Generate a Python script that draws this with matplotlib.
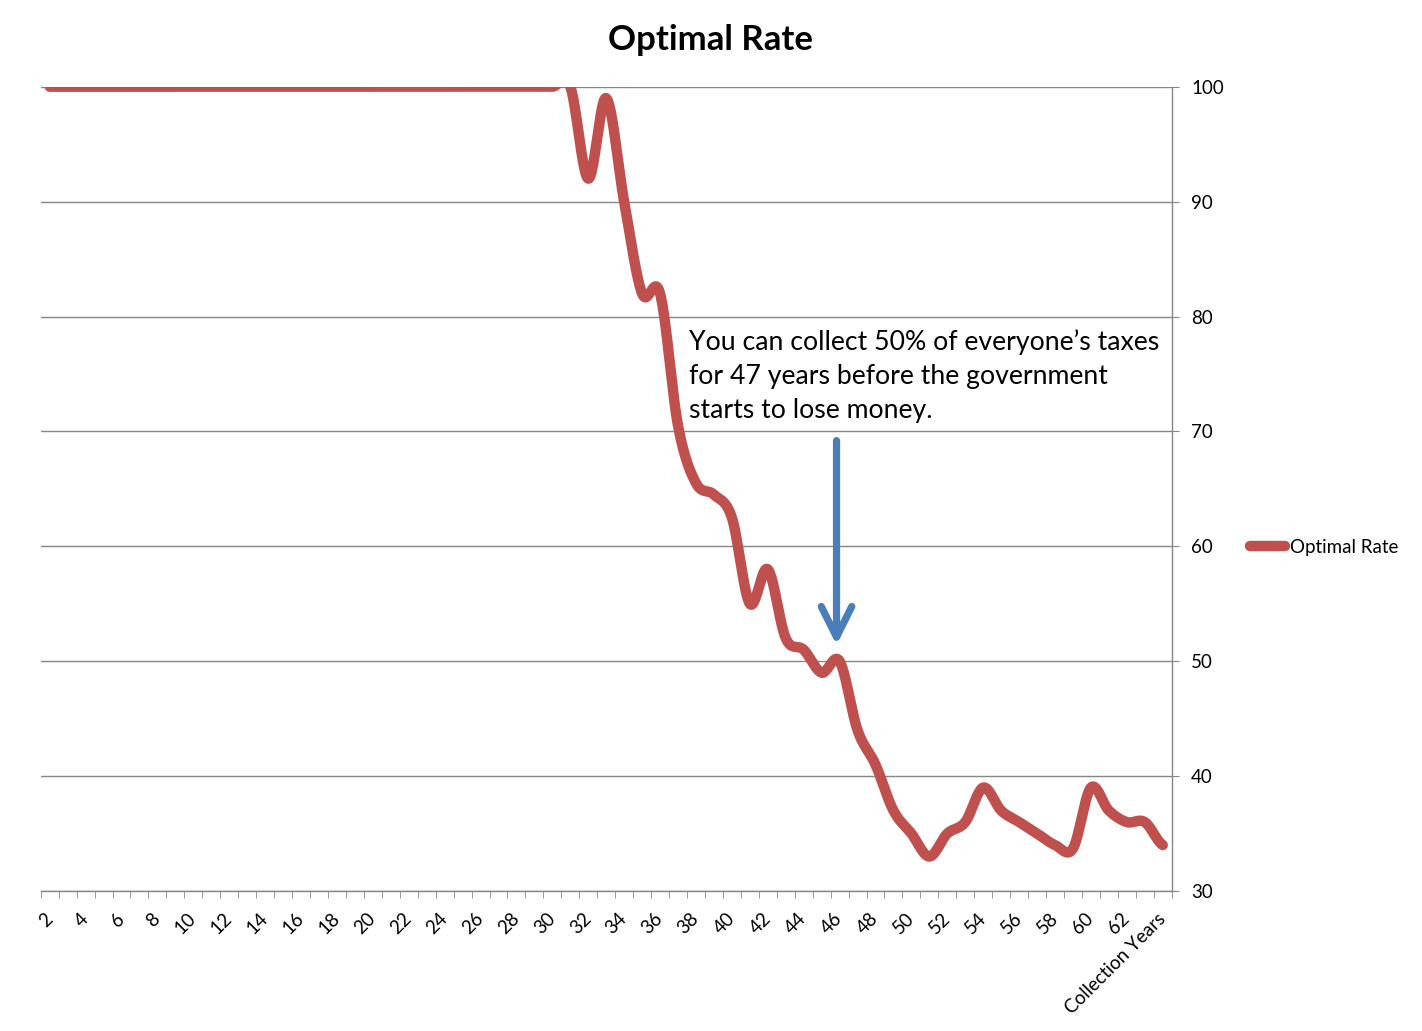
import numpy as np
import matplotlib
matplotlib.use("Agg")
import matplotlib.pyplot as plt

plt.rcParams['font.family'] = ['Lato', 'DejaVu Sans']

# ---- data ----
categories = [str(n) for n in range(2, 64)] + ['Collection Years']
optimal_rate = [100, 100, 100, 100, 100, 100, 100, 100, 100, 100,
                100, 100, 100, 100, 100, 100, 100, 100, 100, 100,
                100, 100, 100, 100, 100, 100, 100, 100, 100, 100,
                92, 99, 90, 82, 82, 70.5, 65.5, 64.5, 62.5, 55,
                58, 52, 51, 49, 50, 44, 41, 37, 35, 33,
                35, 36, 39, 37, 36, 35, 34, 33.7, 39, 37,
                36, 36, 34]
series_name = 'Optimal Rate'
title = 'Optimal Rate'
note = "You can collect 50% of everyone\u2019s taxes\nfor 47 years before the government\nstarts to lose money."
arrow_category = 44.83
arrow_from, arrow_to = 69.2, 51.4
y_ticks = [30, 40, 50, 60, 70, 80, 90, 100]

W, H = 1422, 1031
fig = plt.figure(figsize=(W / 100, H / 100), dpi=100)
L, R, T, B = 40.7, 1171.7, 86.7, 891
ax = fig.add_axes([L / W, 1 - B / H, (R - L) / W, (B - T) / H])

# smoothed line (cubic Hermite / Catmull-Rom through the points)
y = np.array(optimal_rate, float)
n = len(y)
x = np.arange(1, n + 1)
xs, ys = [], []
t = np.linspace(0, 1, 24, endpoint=False)
h00 = 2 * t**3 - 3 * t**2 + 1
h10 = t**3 - 2 * t**2 + t
h01 = -2 * t**3 + 3 * t**2
h11 = t**3 - t**2
for i in range(n - 1):
    y0 = y[i - 1] if i > 0 else y[i]
    y1, y2 = y[i], y[i + 1]
    y3 = y[i + 2] if i + 2 < n else y[i + 1]
    m1 = (y2 - y0) / 2
    m2 = (y3 - y1) / 2
    xs.append(x[i] + t)
    ys.append(h00 * y1 + h10 * m1 + h01 * y2 + h11 * m2)
xs.append([x[-1]])
ys.append([y[-1]])
xs = np.concatenate(xs)
ys = np.concatenate(ys)

ax.plot(xs, ys, color='#C0504D', lw=7.5, solid_capstyle='round',
        solid_joinstyle='round', label=series_name, zorder=3)

ax.set_xlim(0.5, n + 0.5)
ax.set_ylim(30, 100)
ax.yaxis.tick_right()
ax.set_yticks(y_ticks)
ax.grid(axis='y', color='#868686', lw=1)
ax.set_axisbelow(True)
for s in ['left', 'top']:
    ax.spines[s].set_visible(False)
for s in ['bottom', 'right']:
    ax.spines[s].set_color('#868686')
    ax.spines[s].set_linewidth(1)
ax.tick_params(axis='y', direction='out', length=5, color='#868686',
               labelsize=13.5, pad=9, labelcolor='black')

ax.set_xticks(np.arange(0.5, n + 1, 1), minor=True)
ax.set_xticks(x[::2])
ax.set_xticklabels(categories[::2], rotation=45, ha='right', va='center',
                   rotation_mode='anchor', fontsize=13.5)
ax.tick_params(axis='x', which='major', length=0, pad=18)
ax.tick_params(axis='x', which='minor', length=5, color='#868686', direction='out')

fig.text(710 / W, 1 - 40 / H, title, ha='center', va='center',
         fontsize=25, fontweight='bold')

fig.text(689 / W, 1 - 376 / H, note, ha='left', va='center',
         fontsize=19.2, linespacing=1.45)

ax.annotate('', xy=(arrow_category, arrow_to), xytext=(arrow_category, arrow_from),
            arrowprops=dict(arrowstyle='->,head_length=1.1,head_width=0.55',
                            color='#4A7EBB', lw=5.2, shrinkA=0, shrinkB=0,
                            mutation_scale=20))

ax.legend(loc='center left', bbox_to_anchor=(1250 / W, 1 - 547 / H),
          bbox_transform=fig.transFigure, frameon=False, fontsize=13.5,
          handlelength=1.85, handletextpad=0.3, borderpad=0, borderaxespad=0)

fig.savefig('out.png', dpi=100)
